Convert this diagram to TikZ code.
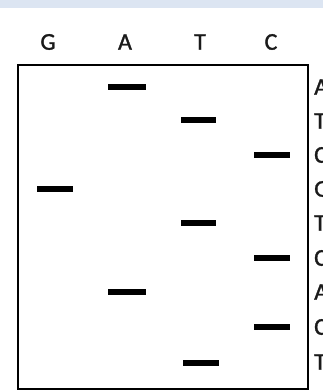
\documentclass[tikz,border=0pt]{standalone}
\usepackage{fontspec}
\setmainfont{Carlito}[BoldFont=Carlito, BoldFeatures={FakeBold=1.3}]
\definecolor{topband}{HTML}{DCE5F2}
\definecolor{ink}{HTML}{1A1A1A}
\begin{document}
\begin{tikzpicture}[x=1pt,y=-1pt,
  lane/.style={font=\fontsize{24}{24}\selectfont\bfseries, text=ink, inner sep=0pt, anchor=center},
  seq/.style={font=\fontsize{24}{24}\selectfont\bfseries, text=ink, inner sep=0pt, anchor=west},
  band/.style={line width=5.5pt}]
\useasboundingbox (0,0) rectangle (323,390);
\clip (0,0) rectangle (323,390);
\fill[white] (0,0) rectangle (323,390);
\fill[topband] (0,0) rectangle (323,8);
% lane labels
\node[lane] (lG) at (48,42) {G};
\node[lane] (lA) at (125,42) {A};
\node[lane] (lT) at (200,42) {T};
\node[lane] (lC) at (271,42) {C};
% gel box
\draw[line width=2pt] (18,65) rectangle (308,389);
% bands
\coordinate (b1a) at (108,87);  \coordinate (b1b) at (146,87);
\coordinate (b2a) at (181,120); \coordinate (b2b) at (216,120);
\coordinate (b3a) at (254,155); \coordinate (b3b) at (290,155);
\coordinate (b4a) at (37,189);  \coordinate (b4b) at (73,189);
\coordinate (b5a) at (181,223); \coordinate (b5b) at (216,223);
\coordinate (b6a) at (254,258); \coordinate (b6b) at (290,258);
\coordinate (b7a) at (108,292); \coordinate (b7b) at (146,292);
\coordinate (b8a) at (254,327); \coordinate (b8b) at (290,327);
\coordinate (b9a) at (183,363); \coordinate (b9b) at (219,363);
\foreach \i in {1,...,9} {\draw[band] (b\i a) -- (b\i b);}
% sequence letters
\node[seq] (s1) at (314,87) {A};
\node[seq] (s2) at (314,121) {T};
\node[seq] (s3) at (314,155) {C};
\node[seq] (s4) at (314,189) {G};
\node[seq] (s5) at (314,223) {T};
\node[seq] (s6) at (314,258) {C};
\node[seq] (s7) at (314,292) {A};
\node[seq] (s8) at (314,327) {C};
\node[seq] (s9) at (314,362) {T};
\end{tikzpicture}
\end{document}
